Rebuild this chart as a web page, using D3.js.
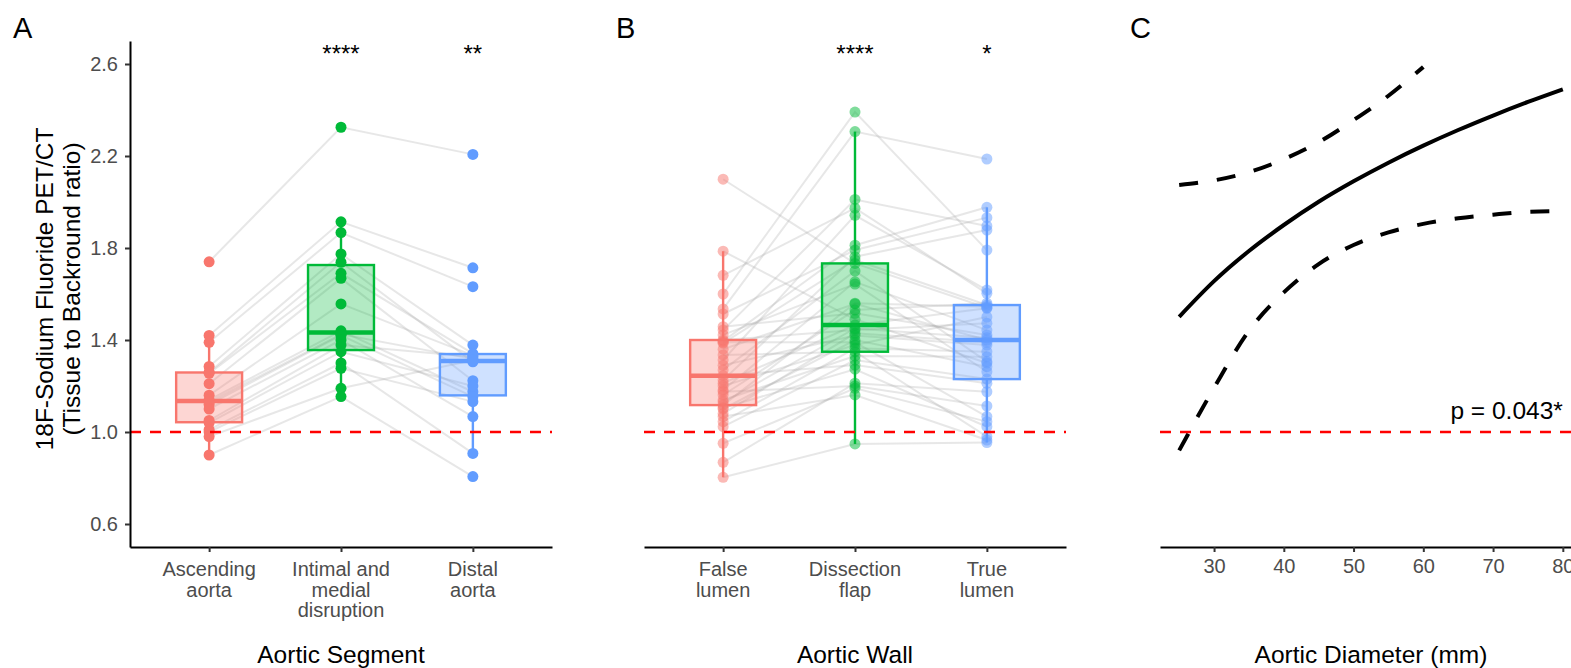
<!DOCTYPE html>
<html>
<head>
<meta charset="utf-8">
<script src="https://cdn.jsdelivr.net/npm/d3@7"></script>
<style>
  body { margin: 0; background: #fff; }
  svg { display: block; }
  text { font-family: "Liberation Sans", Arial, Helvetica, sans-serif; }
</style>
</head>
<body>
<svg id="chart" width="1571" height="668"></svg>
<script>
// ---- Data ---------------------------------------------------------------
// Panel A: uptake ratio per patient in three aortic segments (same patient order)
const segmentCategories = [["Ascending", "aorta"], ["Intimal and", "medial", "disruption"], ["Distal", "aorta"]];
const ascendingAorta = [1.74, 1.42, 1.39, 1.285, 1.26, 1.255, 1.21, 1.16, 1.14, 1.13, 1.12, 1.10, 1.05, 1.04, 1.01, 1.00, 0.98, 0.90];
const intimalMedial  = [2.325, 1.914, 1.867, 1.774, 1.738, 1.69, 1.668, 1.557, 1.44, 1.425, 1.42, 1.40, 1.378, 1.349, 1.30, 1.277, 1.19, 1.154];
const distalAorta    = [2.207, 1.714, 1.632, 1.378, 1.305, 1.341, 1.223, 1.333, 1.175, 1.318, 1.154, 1.067, 1.327, 1.20, 0.907, 1.132, 1.312, 0.806];
const segmentStars = ["", "****", "**"];

// Panel B: uptake ratio per patient across the aortic wall (same patient order)
const wallCategories = [["False", "lumen"], ["Dissection", "flap"], ["True", "lumen"]];
const falseLumen = [2.099, 1.786, 1.681, 1.60, 1.535, 1.513, 1.458, 1.443, 1.422, 1.40, 1.395, 1.39, 1.386, 1.36, 1.335, 1.313, 1.29, 1.27, 1.245,
                    1.226, 1.212, 1.20, 1.183, 1.175, 1.161, 1.139, 1.13, 1.117, 1.105, 1.10, 1.08, 1.067, 1.045, 1.023, 0.951, 0.868, 0.803];
const dissectionFlap = [1.733, 1.49, 1.973, 2.391, 2.306, 1.791, 1.516, 2.011, 1.643, 1.443, 1.812, 1.39, 1.748, 1.557, 1.349, 1.942, 1.42, 1.70, 1.291,
                        1.762, 1.465, 1.378, 1.653, 1.20, 1.53, 1.33, 1.45, 1.56, 1.273, 1.40, 1.429, 1.161, 1.364, 1.313, 1.19, 1.212, 0.948];
const trueLumen = [1.54, 1.30, 1.603, 1.791, 2.187, 1.932, 1.422, 1.896, 1.262, 1.473, 1.977, 1.067, 1.552, 1.40, 0.98, 1.617, 1.378, 1.306, 1.212,
                   1.878, 1.538, 1.50, 1.443, 1.113, 1.56, 1.327, 1.41, 1.545, 1.023, 1.284, 1.39, 0.965, 1.349, 1.23, 1.045, 1.175, 0.954];
const wallStars = ["", "****", "*"];

// Panel C: fitted ratio against aortic diameter with 95% confidence band
const diameterMm = [25, 30, 35, 40, 45, 50, 55, 60, 65, 70, 75, 80];
const fitRatio   = [1.501, 1.656, 1.787, 1.90, 2.001, 2.09, 2.171, 2.245, 2.313, 2.376, 2.435, 2.49];
const lowerRatio = [0.92, 1.192, 1.44, 1.607, 1.73, 1.813, 1.868, 1.905, 1.929, 1.945, 1.957, 1.96];
const upperDiameterMm = [25, 30, 35, 40, 45, 50, 55, 60];
const upperRatio = [2.074, 2.094, 2.130, 2.186, 2.26, 2.356, 2.462, 2.587];
const diameterTicks = [30, 40, 50, 60, 70, 80];
const pLabel = "p = 0.043*";

const ratioTicks = [0.6, 1.0, 1.4, 1.8, 2.2, 2.6];
const groupColors = ["#F8766D", "#00BA38", "#619CFF"];

// ---- Layout -------------------------------------------------------------
const svg = d3.select("#chart");
svg.append("rect").attr("width", 1571).attr("height", 668).attr("fill", "#fff");

const y = d3.scaleLinear().domain([0.5, 2.7]).range([547, 41]);
const AXIS_Y = 547;
const TICK_FONT = 20, TITLE_FONT = 24.5;

function boxStats(values) {
  const s = values.slice().sort(d3.ascending);
  const q1 = d3.quantileSorted(s, 0.25), med = d3.quantileSorted(s, 0.5), q3 = d3.quantileSorted(s, 0.75);
  const iqr = q3 - q1;
  const lo = d3.min(s.filter(v => v >= q1 - 1.5 * iqr));
  const hi = d3.max(s.filter(v => v <= q3 + 1.5 * iqr));
  return { q1, med, q3, lo, hi };
}

function styleAxis(g) {
  g.select(".domain").attr("stroke", "#000").attr("stroke-width", 2);
  g.selectAll(".tick line").attr("stroke", "#333").attr("stroke-width", 2);
  g.selectAll(".tick text").attr("fill", "#4D4D4D").style("font-size", TICK_FONT + "px")
    .style("font-family", '"Liberation Sans", Arial, sans-serif');
}

function panelLetter(letter, x) {
  svg.append("text").attr("x", x).attr("y", 38).style("font-size", "29px").attr("fill", "#000").text(letter);
}

function axisTitle(text, cx) {
  svg.append("text").attr("x", cx).attr("y", 663).attr("text-anchor", "middle")
    .style("font-size", TITLE_FONT + "px").attr("fill", "#000").text(text);
}

function pairedPanel(cfg) {
  const g = svg.append("g");
  const x = d3.scalePoint().domain([0, 1, 2]).range([cfg.x0, cfg.x1]).padding(0.6);
  const boxW = x.step() * 0.5;
  const groups = cfg.series;

  // patient trajectories
  const line = d3.line().x(d => x(d.i)).y(d => y(d.v));
  const patients = d3.range(groups[0].length).map(p => groups.map((arr, i) => ({ i, v: arr[p] })));
  g.append("g").selectAll("path").data(patients).join("path")
    .attr("d", line).attr("fill", "none")
    .attr("stroke", "#a8a8a8").attr("stroke-opacity", 0.28).attr("stroke-width", 2);

  // box plots
  groups.forEach((arr, i) => {
    const st = boxStats(arr);
    const c = groupColors[i];
    const bg = g.append("g");
    bg.append("line").attr("x1", x(i)).attr("x2", x(i)).attr("y1", y(st.q3)).attr("y2", y(st.hi))
      .attr("stroke", c).attr("stroke-width", 2.4);
    bg.append("line").attr("x1", x(i)).attr("x2", x(i)).attr("y1", y(st.q1)).attr("y2", y(st.lo))
      .attr("stroke", c).attr("stroke-width", 2.4);
    bg.append("rect").attr("x", x(i) - boxW / 2).attr("width", boxW)
      .attr("y", y(st.q3)).attr("height", y(st.q1) - y(st.q3))
      .attr("fill", c).attr("fill-opacity", 0.3).attr("stroke", c).attr("stroke-width", 2.4);
    bg.append("line").attr("x1", x(i) - boxW / 2).attr("x2", x(i) + boxW / 2)
      .attr("y1", y(st.med)).attr("y2", y(st.med)).attr("stroke", c).attr("stroke-width", 4.5);
  });

  // points
  groups.forEach((arr, i) => {
    g.append("g").selectAll("circle").data(arr).join("circle")
      .attr("cx", x(i)).attr("cy", d => y(d)).attr("r", 5.5)
      .attr("fill", groupColors[i]).attr("fill-opacity", cfg.pointOpacity);
  });

  // reference ratio of 1
  g.append("line").attr("x1", cfg.x0).attr("x2", cfg.x1).attr("y1", y(1)).attr("y2", y(1))
    .attr("stroke", "#FF0000").attr("stroke-width", 2.5).attr("stroke-dasharray", "11,9");

  // significance marks
  cfg.stars.forEach((s, i) => {
    if (!s) return;
    g.append("text").attr("x", x(i)).attr("y", 62).attr("text-anchor", "middle")
      .style("font-size", "24px").attr("fill", "#000").text(s);
  });

  // x axis with wrapped category labels
  const ax = g.append("g").attr("transform", `translate(0,${AXIS_Y})`)
    .call(d3.axisBottom(x).tickSize(5).tickSizeOuter(0).tickFormat(""));
  styleAxis(ax);
  cfg.categories.forEach((lines, i) => {
    const t = g.append("text").attr("x", x(i)).attr("y", 576).attr("text-anchor", "middle")
      .style("font-size", TICK_FONT + "px").attr("fill", "#4D4D4D");
    lines.forEach((ln, k) => t.append("tspan").attr("x", x(i)).attr("dy", k === 0 ? 0 : 20.5).text(ln));
  });

  if (cfg.yAxis) {
    const ay = g.append("g").attr("transform", `translate(${cfg.x0},0)`)
      .call(d3.axisLeft(y).tickValues(ratioTicks).tickFormat(d3.format(".1f")).tickSize(5).tickSizeOuter(0).tickPadding(7));
    styleAxis(ay);
  }
  axisTitle(cfg.title, (cfg.x0 + cfg.x1) / 2);
}

pairedPanel({
  x0: 130, x1: 552, series: [ascendingAorta, intimalMedial, distalAorta],
  categories: segmentCategories, stars: segmentStars, pointOpacity: 1, yAxis: true, title: "Aortic Segment"
});
pairedPanel({
  x0: 644, x1: 1066, series: [falseLumen, dissectionFlap, trueLumen],
  categories: wallCategories, stars: wallStars, pointOpacity: 0.5, yAxis: false, title: "Aortic Wall"
});

// y axis title (two lines, rotated)
const yTitle = svg.append("g").attr("transform", "translate(0,289) rotate(-90)");
yTitle.append("text").attr("x", 0).attr("y", 53).attr("text-anchor", "middle")
  .style("font-size", TITLE_FONT + "px").attr("fill", "#000").text("18F-Sodium Fluoride PET/CT");
yTitle.append("text").attr("x", 0).attr("y", 80).attr("text-anchor", "middle")
  .style("font-size", TITLE_FONT + "px").attr("fill", "#000").text("(Tissue to Backround ratio)");

// ---- Panel C -------------------------------------------------------------
const xC = d3.scaleLinear().domain([22.25, 82.75]).range([1160, 1582]);
const gC = svg.append("g");
const curve = d3.line().x(d => xC(d[0])).y(d => y(d[1])).curve(d3.curveMonotoneX);

gC.append("path").attr("d", curve(d3.zip(diameterMm, fitRatio)))
  .attr("fill", "none").attr("stroke", "#000").attr("stroke-width", 4);
gC.append("path").attr("d", curve(d3.zip(upperDiameterMm, upperRatio)))
  .attr("fill", "none").attr("stroke", "#000").attr("stroke-width", 4).attr("stroke-dasharray", "19,19");
gC.append("path").attr("d", curve(d3.zip(diameterMm, lowerRatio)))
  .attr("fill", "none").attr("stroke", "#000").attr("stroke-width", 4).attr("stroke-dasharray", "19,19");

gC.append("line").attr("x1", 1160).attr("x2", 1582).attr("y1", y(1)).attr("y2", y(1))
  .attr("stroke", "#FF0000").attr("stroke-width", 2.5).attr("stroke-dasharray", "11,9");

gC.append("text").attr("x", xC(80)).attr("y", y(1) - 13).attr("text-anchor", "end")
  .style("font-size", TITLE_FONT + "px").attr("fill", "#000").text(pLabel);

const axC = gC.append("g").attr("transform", `translate(0,${AXIS_Y})`)
  .call(d3.axisBottom(xC).tickValues(diameterTicks).tickSize(5).tickSizeOuter(0).tickPadding(7));
styleAxis(axC);
axisTitle("Aortic Diameter (mm)", 1371);

panelLetter("A", 13);
panelLetter("B", 616);
panelLetter("C", 1130);
</script>
</body>
</html>
